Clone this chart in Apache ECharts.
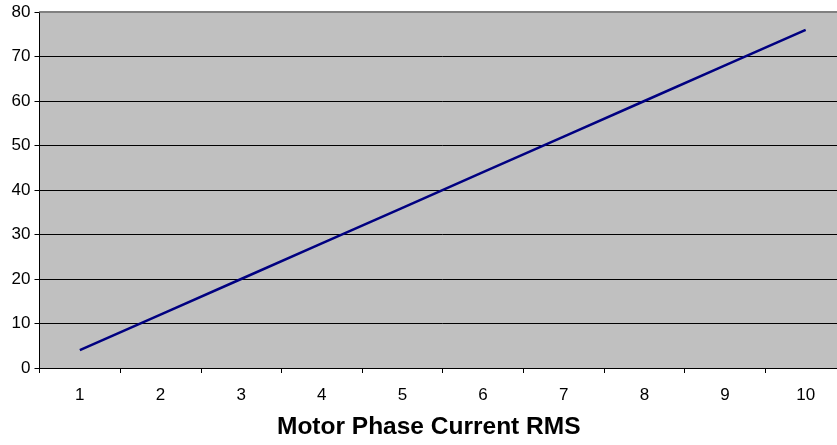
<!DOCTYPE html>
<html><head><meta charset="utf-8">
<script src="https://cdn.jsdelivr.net/npm/echarts@6/dist/echarts.min.js"></script>
<style>html,body{margin:0;padding:0;background:#fff;overflow:hidden}#c{width:846px;height:445px}</style>
</head><body><div id="c"></div>
<script>
var categories = ['1','2','3','4','5','6','7','8','9','10'];
var values = [4, 12, 20, 28, 36, 44, 52, 60, 68, 76];
var xTitle = 'Motor Phase Current RMS';
var chart = echarts.init(document.getElementById('c'), null, {renderer:'canvas'});
chart.setOption({
  animation: false,
  grid: {left: 39.5, top: 12, right: 0, height: 357, backgroundColor: '#C0C0C0', show: true, borderWidth: 0, containLabel: false},
  xAxis: {
    type: 'category', data: categories, boundaryGap: true,
    name: xTitle, nameLocation: 'middle', nameGap: 47,
    nameTextStyle: {fontFamily: 'Liberation Sans', fontWeight: 'bold', fontSize: 24.5, color: '#000', padding: [0, 28, 0, 0]},
    axisLine: {lineStyle: {color: '#000', width: 1}},
    axisTick: {show: true, alignWithLabel: false, length: 5, lineStyle: {color: '#000'}},
    axisLabel: {fontFamily: 'Liberation Sans', fontSize: 17, color: '#000', margin: 19},
    splitLine: {show: false}
  },
  yAxis: {
    type: 'value', min: 0, max: 80, interval: 10,
    axisLine: {show: true, lineStyle: {color: '#000', width: 1}},
    axisTick: {show: true, length: 5, lineStyle: {color: '#000'}},
    axisLabel: {fontFamily: 'Liberation Sans', fontSize: 17, color: '#000', margin: 9},
    splitLine: {show: true, lineStyle: {color: '#000', width: 1}}
  },
  series: [{
    type: 'line', data: values, symbol: 'none',
    lineStyle: {color: '#000080', width: 2.5}
  }],
  graphic: [{type: 'line', shape: {x1: 39.5, y1: 12, x2: 846, y2: 12}, style: {stroke: '#808080', lineWidth: 2}, z: 100}]
});
</script></body></html>
